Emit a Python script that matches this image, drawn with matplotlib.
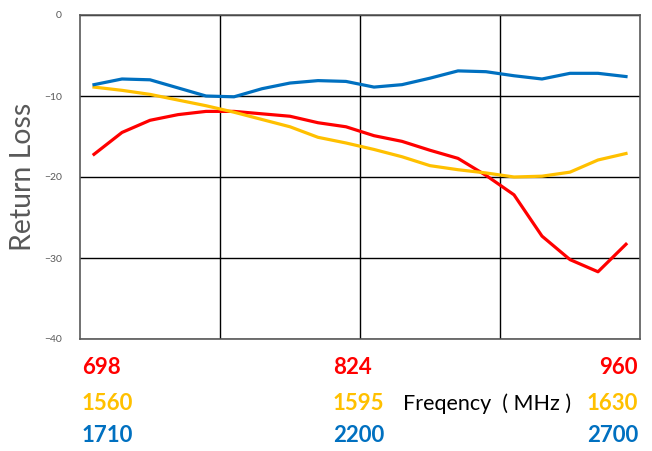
import matplotlib.pyplot as plt

# 20 measurement points per band
points = list(range(20))

band_low = [-17.2, -14.5, -13.0, -12.3, -11.9, -11.9, -12.2, -12.5, -13.3, -13.8,
            -14.9, -15.6, -16.7, -17.7, -19.8, -22.2, -27.3, -30.2, -31.7, -28.3]
band_mid = [-8.9, -9.3, -9.8, -10.5, -11.2, -12.0, -12.9, -13.8, -15.1, -15.8,
            -16.6, -17.5, -18.6, -19.1, -19.5, -20.0, -19.9, -19.4, -17.9, -17.1]
band_high = [-8.6, -7.9, -8.0, -9.0, -10.0, -10.1, -9.1, -8.4, -8.1, -8.2,
             -8.9, -8.6, -7.8, -6.9, -7.0, -7.5, -7.9, -7.2, -7.2, -7.6]

labels_low = ['698', '824', '960']
labels_mid = ['1560', '1595', '1630']
labels_high = ['1710', '2200', '2700']

red = '#FF0000'
yellow = '#FFC000'
blue = '#0070C0'

plt.rcParams['font.family'] = ['Lato', 'DejaVu Sans']

fig = plt.figure(figsize=(6.52, 4.51), dpi=100)
ax = fig.add_axes([80/652, 112/451, 560/652, 324/451])

ax.plot(points, band_low, color=red, lw=2.3, zorder=3)
ax.plot(points, band_mid, color=yellow, lw=2.3, zorder=3)
ax.plot(points, band_high, color=blue, lw=2.3, zorder=3)

ax.set_xlim(-0.5, 19.5)
ax.set_ylim(-40, 0)
ax.set_yticks([0, -10, -20, -30, -40])
ax.set_xticks([4.5, 9.5, 14.5])
ax.set_xticklabels([])
ax.tick_params(axis='x', length=0)
ax.tick_params(axis='y', length=0, labelsize=7.5, labelcolor='#595959', pad=13)
ax.grid(True, color='black', lw=1)
for s in ax.spines.values():
    s.set_color('#595959')
    s.set_linewidth(1.2)

ax.set_ylabel('Return Loss', fontsize=20.5, color='#595959')
ax.yaxis.set_label_coords(-44/560, 0.5)

# frequency labels under the chart
rows = [(labels_low, red, 368), (labels_mid, yellow, 403), (labels_high, blue, 436)]
for labs, col, py in rows:
    y = 1 - py/451
    fig.text(82/652, y, labs[0], color=col, fontsize=16, fontweight='bold', va='center', ha='left')
    fig.text(333/652, y, labs[1], color=col, fontsize=16, fontweight='bold', va='center', ha='left')
    fig.text(638/652, y, labs[2], color=col, fontsize=16, fontweight='bold', va='center', ha='right')

fig.text(403/652, 1 - 404/451, 'Freqency  ( MHz )', color='black', fontsize=15.5, va='center', ha='left')

fig.savefig('out.png', dpi=100)
